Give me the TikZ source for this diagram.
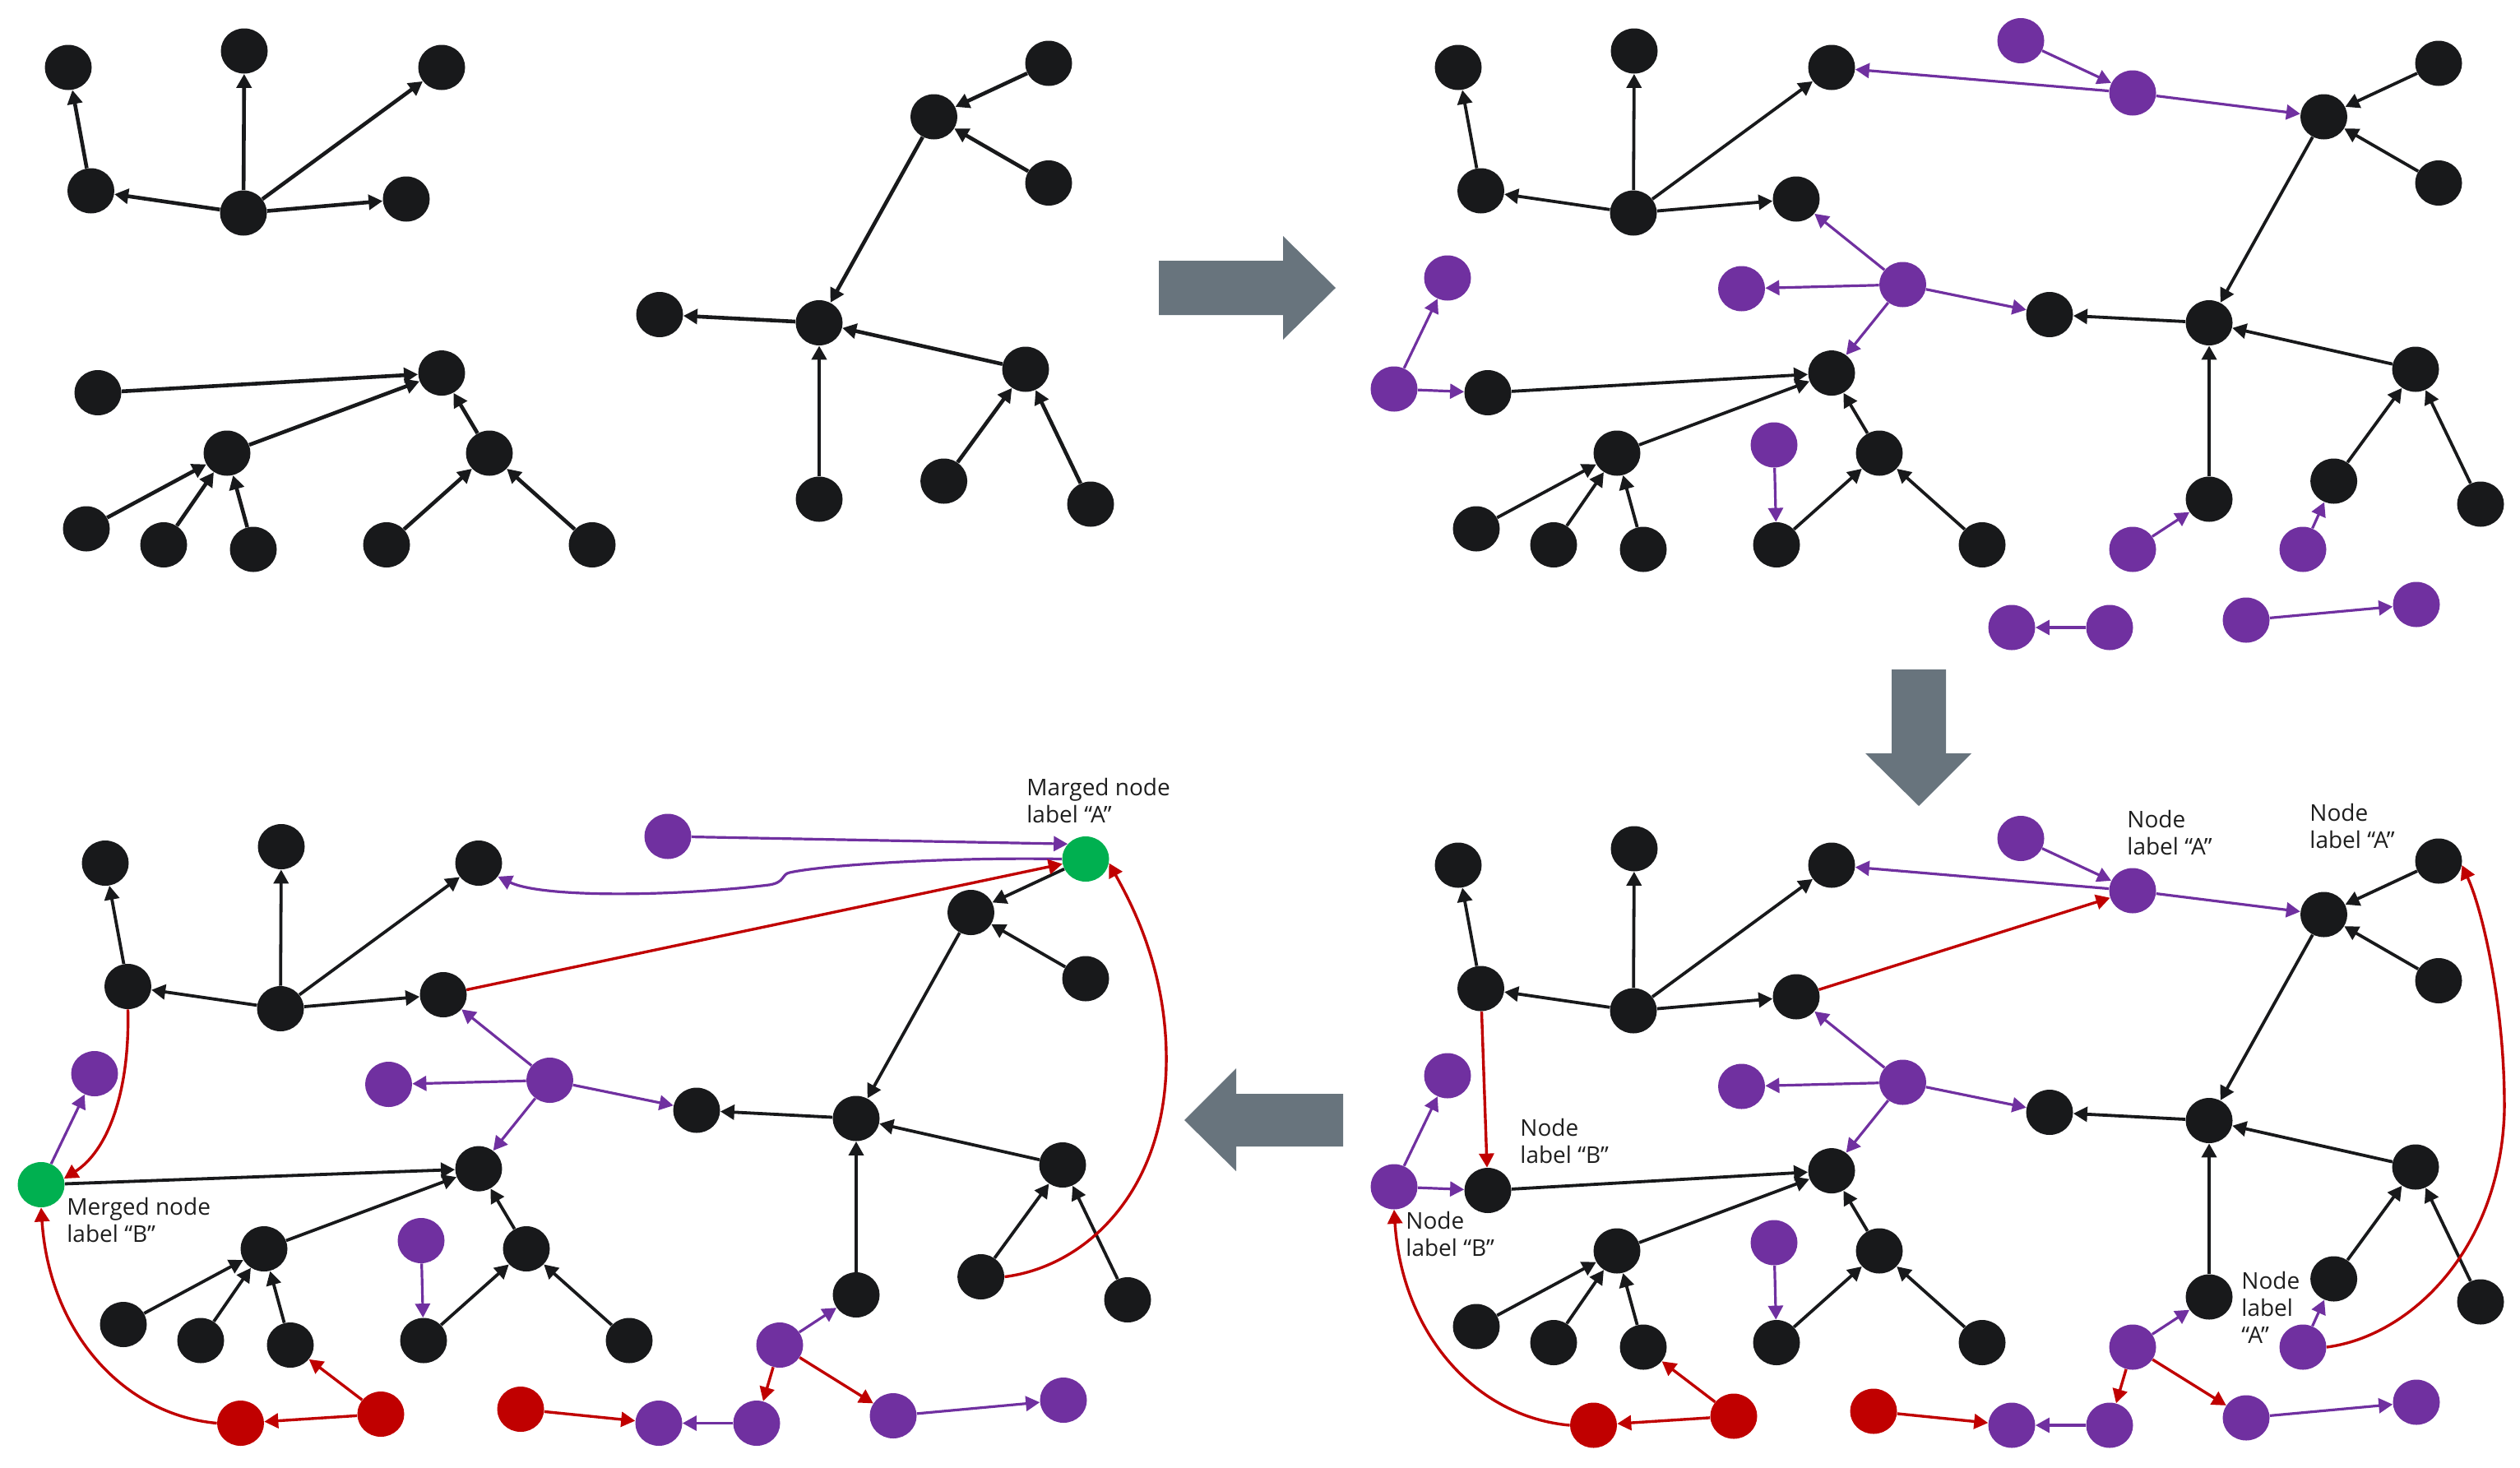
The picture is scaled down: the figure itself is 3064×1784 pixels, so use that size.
\documentclass[tikz,border=0pt]{standalone}
\usepackage{fontspec}
\setmainfont{Open Sans}
\usetikzlibrary{arrows.meta,shapes.geometric}
\definecolor{nblack}{RGB}{24,25,27}
\definecolor{npurple}{RGB}{112,48,160}
\definecolor{nred}{RGB}{192,0,0}
\definecolor{ngreen}{RGB}{0,176,80}
\definecolor{ngray}{RGB}{104,116,125}
\definecolor{ntext}{RGB}{30,30,30}
\tikzset{
 dot/.style={ellipse, minimum width=28.5pt, minimum height=27.5pt, inner sep=0pt, draw=none},
 bk/.style={dot, fill=nblack},
 pu/.style={dot, fill=npurple},
 rd/.style={dot, fill=nred},
 gr/.style={dot, fill=ngreen},
 tipped/.style={-{Triangle[length=8.5pt,width=9pt]}},
 bedge/.style={tipped, draw=nblack, line width=1.9pt},
 pedge/.style={tipped, draw=npurple, line width=1.6pt},
 redge/.style={tipped, draw=nred, line width=1.7pt},
 lbl/.style={font=\fontsize{14pt}{16.5pt}\selectfont, text=ntext, align=left, anchor=north west, inner sep=0pt},
 bigarrow/.style={fill=ngray, draw=none}
}
% ---- black graph nodes ----
\newcommand\nodesA[1]{%
 \node[bk] (#1a1) at (83,82) {};
 \node[bk] (#1a2) at (297,62) {};
 \node[bk] (#1a3) at (537,82) {};
 \node[bk] (#1a4) at (110.5,232) {};
 \node[bk] (#1a5) at (296,259) {};
 \node[bk] (#1a6) at (494,242) {};
}
\newcommand\nodesBrest[1]{%
 \node[bk] (#1b2) at (537,453.6) {};
 \node[bk] (#1b3) at (276,551) {};
 \node[bk] (#1b4) at (595,551) {};
 \node[bk] (#1b5) at (105,643) {};
 \node[bk] (#1b6) at (199,662.5) {};
 \node[bk] (#1b7) at (308,668) {};
 \node[bk] (#1b8) at (470,662.5) {};
 \node[bk] (#1b9) at (720,662.5) {};
}
\newcommand\nodesCrest[1]{%
 \node[bk] (#1c2) at (1135.5,142) {};
 \node[bk] (#1c3) at (1275,222.5) {};
 \node[bk] (#1c4) at (802,382.5) {};
 \node[bk] (#1c5) at (996,392.5) {};
 \node[bk] (#1c6) at (1247,449) {};
 \node[bk] (#1c7) at (996,607) {};
 \node[bk] (#1c8) at (1147.6,585) {};
 \node[bk] (#1c9) at (1326,613) {};
}
\newcommand\edgesBlack[1]{%
 \draw[bedge] (#1a5) -- (#1a4);
 \draw[bedge] (#1a4) -- (#1a1);
 \draw[bedge] (#1a5) -- (#1a2);
 \draw[bedge] (#1a5) -- (#1a3);
 \draw[bedge] (#1a5) -- (#1a6);
 \draw[bedge] (#1b3) -- (#1b2);
 \draw[bedge] (#1b4) -- (#1b2);
 \draw[bedge] (#1b5) -- (#1b3);
 \draw[bedge] (#1b6) -- (#1b3);
 \draw[bedge] (#1b7) -- (#1b3);
 \draw[bedge] (#1b8) -- (#1b4);
 \draw[bedge] (#1b9) -- (#1b4);
 \draw[bedge] (#1c3) -- (#1c2);
 \draw[bedge] (#1c2) -- (#1c5);
 \draw[bedge] (#1c5) -- (#1c4);
 \draw[bedge] (#1c6) -- (#1c5);
 \draw[bedge] (#1c7) -- (#1c5);
 \draw[bedge] (#1c8) -- (#1c6);
 \draw[bedge] (#1c9) -- (#1c6);
}
% ---- purple / red nodes ----
\newcommand\purpleCommon[1]{%
 \node[pu] (#1p1) at (70,338) {};
 \node[pu] (#1p3) at (427.5,351) {};
 \node[pu] (#1p4) at (623.5,346) {};
 \node[pu] (#1p5) at (467,541) {};
 \node[pu] (#1p6) at (767,49.5) {};
 \node[pu] (#1p8) at (903,668) {};
 \node[pu] (#1p10) at (756,763) {};
 \node[pu] (#1p11) at (875,763) {};
 \node[pu] (#1p12) at (1041,754) {};
 \node[pu] (#1p13) at (1248,735) {};
}
\newcommand\purpleExtra[1]{%
 \node[pu] (#1p2) at (5,473) {};
 \node[pu] (#1p7) at (903,113) {};
 \node[pu] (#1p9) at (1110,668) {};
}
\newcommand\purpleEdgesCommon[1]{%
 \draw[pedge] (#1p4) -- (#1p3);
 \draw[pedge] (#1p4) -- (#1a6);
 \draw[pedge] (#1p4) -- (#1b2);
 \draw[pedge] (#1p4) -- (#1c4);
 \draw[pedge] (#1p5) -- (#1b8);
 \draw[pedge] (#1p8) -- (#1c7);
 \draw[pedge] (#1p11) -- (#1p10);
 \draw[pedge] (#1p12) -- (#1p13);
}
\newcommand\purpleEdgesExtra[1]{%
 \draw[pedge] (#1p2) -- (#1p1);
 \draw[pedge] (#1p2) -- (#1b1);
 \draw[pedge] (#1p6) -- (#1p7);
 \draw[pedge] (#1p7) -- (#1a3);
 \draw[pedge] (#1p7) -- (#1c2);
 \draw[pedge] (#1p9) -- (#1c8);
}
\newcommand\redNodes[1]{%
 \node[rd] (#1r1) at (247.5,763) {};
 \node[rd] (#1r2) at (418,752) {};
 \node[rd] (#1r3) at (588,746) {};
}
\newcommand\redEdgesCommon[1]{%
 \draw[redge] (#1r2) -- (#1r1);
 \draw[redge] (#1r2) -- (#1b7);
 \draw[redge] (#1r3) -- (#1p10);
 \draw[redge] (#1p8) -- (#1p11);
 \draw[redge] (#1p8) -- (#1p12);
}
\begin{document}
\begin{tikzpicture}[x=0.5pt,y=-0.5pt]
\useasboundingbox (0,0) rectangle (3064,1784);
% big gray arrows
\fill[bigarrow] (1409,317) -- (1560,317) -- (1560,287) -- (1624,350) -- (1560,413) -- (1560,383) -- (1409,383) -- cycle;
\fill[bigarrow] (2300,814) -- (2366,814) -- (2366,916) -- (2397,916) -- (2333,980) -- (2268,916) -- (2300,916) -- cycle;
\fill[bigarrow] (1633,1330) -- (1503,1330) -- (1503,1299) -- (1440,1362) -- (1503,1424) -- (1503,1394) -- (1633,1394) -- cycle;

% ===== top-left panel =====
\begin{scope}[bedge/.append style={line width=2.3pt}]
 \nodesA{tl}\nodesBrest{tl}\nodesCrest{tl}
 \node[bk] (tlb1) at (119,477.5) {};
 \node[bk] (tlc1) at (1275,77) {};
 \edgesBlack{tl}
 \draw[bedge] (tlb1) -- (tlb2);
 \draw[bedge] (tlc1) -- (tlc2);
\end{scope}

% ===== top-right panel =====
\begin{scope}[shift={(1690,0)}]
 \nodesA{tr}\nodesBrest{tr}\nodesCrest{tr}
 \node[bk] (trb1) at (119,477.5) {};
 \node[bk] (trc1) at (1275,77) {};
 \purpleCommon{tr}\purpleExtra{tr}
 \edgesBlack{tr}
 \draw[bedge] (trb1) -- (trb2);
 \draw[bedge] (trc1) -- (trc2);
 \purpleEdgesCommon{tr}\purpleEdgesExtra{tr}
\end{scope}

% ===== bottom-right panel =====
\begin{scope}[shift={(1690,970)}]
 \nodesA{br}\nodesBrest{br}\nodesCrest{br}
 \node[bk] (brb1) at (119,477.5) {};
 \node[bk] (brc1) at (1275,77) {};
 \purpleCommon{br}\purpleExtra{br}
 \redNodes{br}
 \edgesBlack{br}
 \draw[bedge] (brb1) -- (brb2);
 \draw[bedge] (brc1) -- (brc2);
 \purpleEdgesCommon{br}\purpleEdgesExtra{br}
 \redEdgesCommon{br}
 \draw[redge] (bra4) -- (brb1);
 \draw[redge] (bra6) -- (brp7);
 \draw[redge] (brr1.west) .. controls (105,753) and (15,653) .. (brp2.south);
 \draw[redge] (brp9.east) .. controls (1240,655) and (1350,550) .. (1355,381) .. controls (1356,260) and (1330,140) .. (brc1.-10);
\end{scope}
\node[lbl] (lbB1) at (1848,1360) {Node\\label “B”};
\node[lbl] (lbB2) at (1709,1473) {Node\\label “B”};
\node[lbl] (lbA1) at (2586,985) {Node\\label “A”};
\node[lbl] (lbA2) at (2808,977) {Node\\label “A”};
\node[lbl] (lbA3) at (2725,1546) {Node\\label\\“A”};

% ===== bottom-left panel =====
\begin{scope}[shift={(45,967.5)}]
 \nodesA{bl}\nodesBrest{bl}\nodesCrest{bl}
 \node[gr] (blgb) at (5,473) {};
 \node[gr] (blga) at (1275,77) {};
 \purpleCommon{bl}
 \redNodes{bl}
 \edgesBlack{bl}
 \draw[bedge] (blgb) -- (blb2);
 \draw[bedge] (blga) -- (blc2);
 \purpleEdgesCommon{bl}
 \draw[pedge] (blgb) -- (blp1);
 \draw[pedge] (blp6) -- (blga.140);
 \draw[pedge] (blga.west) .. controls (1105,74.5) and (955,84.5) .. (915,93.5) .. controls (905,95.5) and (910,105.5) .. (890,108.5) .. controls (775,122.5) and (615,124.5) .. (bla3.-35);
 \redEdgesCommon{bl}
 \draw[redge] (bla6) -- (blga);
 \draw[redge] (bla4.south) .. controls (113,362.5) and (85,432.5) .. (blgb.15);
 \draw[redge] (blr1.west) .. controls (105,752.5) and (15,652.5) .. (blgb.south);
 \draw[redge] (blc8.east) .. controls (1275,572.5) and (1370,482.5) .. (1373,327.5) .. controls (1375,212.5) and (1330,130) .. (blga.-10);
\end{scope}
\node[lbl] (lbGA) at (1248,946) {Marged node\\label “A”};
\node[lbl] (lbGB) at (81,1456) {Merged node\\label “B”};
\end{tikzpicture}
\end{document}
